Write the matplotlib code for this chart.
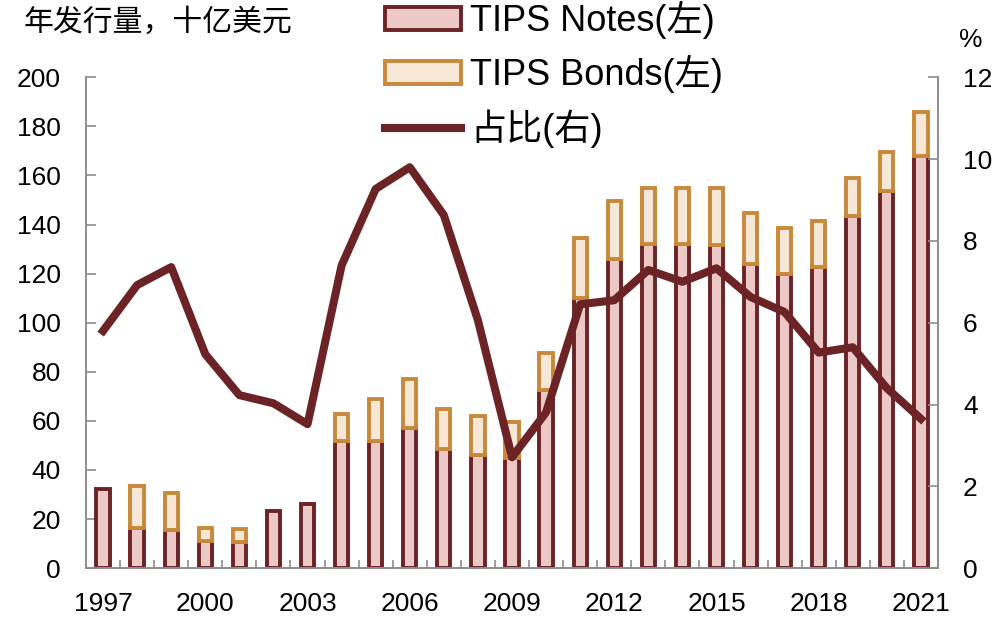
import matplotlib.pyplot as plt
import numpy as np

plt.rcParams['font.family'] = ['Liberation Sans', 'Noto Sans CJK SC', 'DejaVu Sans']

years = list(range(1997, 2022))
notes = [32.2, 16.3, 15.5, 11.0, 10.6, 23.2, 26.0, 51.7, 51.7, 57.0, 48.5, 46.0, 45.0,
         72.5, 110.0, 126.0, 132.0, 132.0, 131.6, 124.0, 119.8, 122.6, 143.4, 153.6, 168.0]
totals = [32.2, 33.4, 30.5, 16.3, 16.0, 23.2, 26.0, 63.0, 69.0, 77.0, 65.0, 62.0, 59.5,
          87.6, 134.5, 149.5, 155.0, 155.0, 155.0, 144.6, 138.5, 141.3, 158.9, 169.5, 186.0]
bonds = [t - n for t, n in zip(totals, notes)]
share = [5.8, 6.92, 7.36, 5.23, 4.23, 4.03, 3.52, 7.4, 9.27, 9.8, 8.63, 6.06, 2.71,
         3.81, 6.45, 6.55, 7.29, 7.0, 7.33, 6.63, 6.26, 5.27, 5.4, 4.4, 3.65]

dark = "#6B2326"
gold = "#C8893A"
pink = "#ECC8C6"
cream = "#F6E7D7"
gray = "#8C8C8C"

fig = plt.figure(figsize=(10.05, 6.23), dpi=100)
ax = fig.add_axes([0.0856, 0.088, 0.8477, 0.788])

ax.bar(years, notes, width=0.39, color=pink, edgecolor=dark, linewidth=2.8,
       label="TIPS Notes(左)", zorder=2)
# no bonds issued in some years: skip those so no empty outline is drawn
b_years = [y for y, b in zip(years, bonds) if b > 0]
b_vals = [b for b in bonds if b > 0]
b_bottom = [n for n, b in zip(notes, bonds) if b > 0]
ax.bar(b_years, b_vals, bottom=b_bottom, width=0.39, color=cream, edgecolor=gold,
       linewidth=2.8, label="TIPS Bonds(左)", zorder=2)

ax.set_xlim(1996.5, 2021.5)
ax.set_ylim(0, 200)
ax.set_yticks(range(0, 201, 20))
ax.set_xticks(range(1997, 2022, 3))
ax.set_xticks(np.arange(1997.5, 2021, 1), minor=True)
ax.tick_params(axis='x', which='major', length=0, labelsize=19, pad=17)
ax.tick_params(axis='x', which='minor', direction='in', length=6, color=gray, width=1.2)
ax.tick_params(axis='y', direction='in', length=7, color=gray, width=1.2, labelsize=19, pad=18)
for s in ['left', 'bottom', 'right']:
    ax.spines[s].set_color(gray)
    ax.spines[s].set_linewidth(1.2)
ax.spines['top'].set_visible(False)

ax2 = ax.twinx()
ax2.plot(years, share, color=dark, linewidth=5.8, label="占比(右)", zorder=3)
ax2.set_ylim(0, 12)
ax2.set_yticks(range(0, 13, 2))
ax2.tick_params(axis='y', direction='in', length=7, color=gray, width=1.2, labelsize=19, pad=18)
for s in ['left', 'bottom', 'right']:
    ax2.spines[s].set_color(gray)
    ax2.spines[s].set_linewidth(1.2)
ax2.spines['top'].set_visible(False)

fig.text(0.023, 0.964, "年发行量，十亿美元", fontsize=21.5, va='center', ha='left')
fig.text(0.966, 0.936, "%", fontsize=19, va='center', ha='center')

h1, l1 = ax.get_legend_handles_labels()
h2, l2 = ax2.get_legend_handles_labels()
fig.legend(h1 + h2, l1 + l2, loc='upper left', bbox_to_anchor=(0.383, 0.998),
           frameon=False, fontsize=26, handlelength=2.1, handleheight=0.62,
           labelspacing=0.44, handletextpad=0.27, borderpad=0, borderaxespad=0)

fig.savefig("out.png", dpi=100)
